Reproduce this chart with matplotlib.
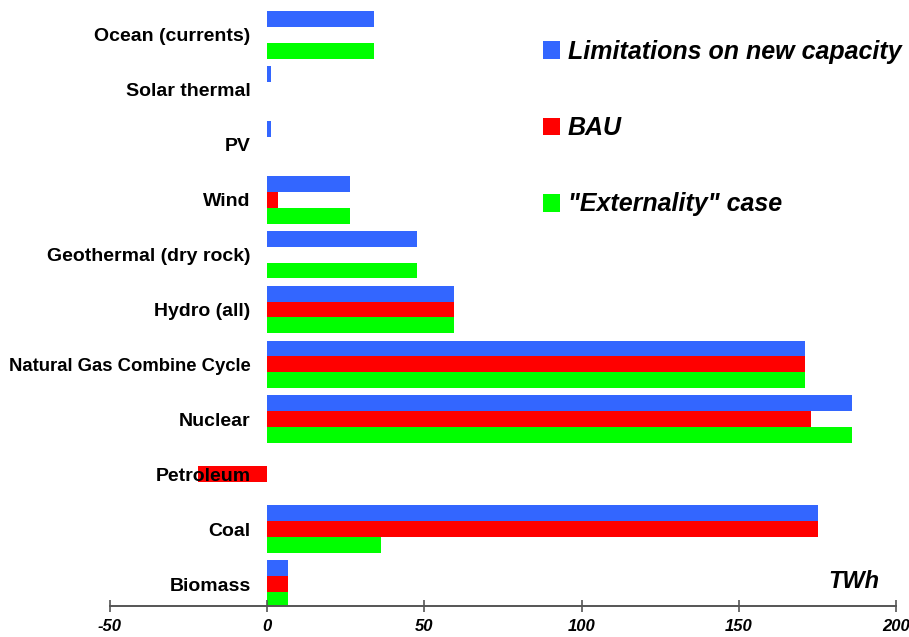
import matplotlib
matplotlib.use("Agg")
import matplotlib.pyplot as plt
import numpy as np

categories = ["Biomass", "Coal", "Petroleum", "Nuclear", "Natural Gas Combine Cycle",
              "Hydro (all)", "Geothermal (dry rock)", "Wind", "PV", "Solar thermal",
              "Ocean (currents)"]
limitations = [6.5, 175.3, 0, 186.1, 171.2, 59.3, 47.5, 26.2, 1.3, 1.3, 33.9]
bau = [6.5, 175.3, -22.1, 173.1, 171.2, 59.3, 0, 3.3, 0, 0, 0]
externality = [6.5, 36.1, 0, 186.1, 171.2, 59.3, 47.5, 26.2, 0, 0, 33.9]
series_names = ["Limitations on new capacity", "BAU", "\"Externality\" case"]
colors = ["#3366FF", "#FF0000", "#00FF00"]
xticks = [-50, 0, 50, 100, 150, 200]

plt.rcParams['font.family'] = ['Liberation Sans', 'DejaVu Sans']

fig = plt.figure(figsize=(9.09, 6.37), dpi=100)
ax = fig.add_axes([110/909, 31/637, (896-110)/909, (637-31-2)/637])

y = np.arange(len(categories))
h = 0.29
for i, (vals, c, name) in enumerate(zip([limitations, bau, externality], colors, series_names)):
    ax.barh(y + (1 - i) * h, vals, height=h, color=c, label=name, linewidth=0)

ax.set_xlim(-50, 200)
ax.set_ylim(-0.4, 10.6)
ax.set_xticks(xticks)
ax.set_xticklabels([str(t) for t in xticks], fontsize=12, fontweight='bold', fontstyle='italic')
ax.tick_params(axis='x', direction='inout', length=9, width=1.2, color='#555555', pad=5)

ax.spines['left'].set_position(('data', 0))
ax.spines['left'].set_visible(False)
ax.spines['right'].set_visible(False)
ax.spines['top'].set_visible(False)
ax.spines['bottom'].set_color('#555555')
ax.spines['bottom'].set_linewidth(1.4)
ax.set_yticks(y)
ax.set_yticklabels(categories, fontsize=14, fontweight='bold')
ax.tick_params(axis='y', length=0, pad=12)
for lbl in ax.get_yticklabels():
    if lbl.get_text().startswith("Natural"):
        lbl.set_fontsize(13.3)

fig.text(854/909, 1 - 582/637, "TWh", fontsize=17, fontweight='bold', fontstyle='italic',
         ha='center', va='center')

leg = fig.legend(loc='upper left', bbox_to_anchor=(520/909, 1 - 17/637), frameon=False,
                 prop={'size': 18, 'weight': 'bold', 'style': 'italic'},
                 handlelength=0.7, handleheight=0.7, handletextpad=0.3, labelspacing=2.1)

fig.savefig("out.png", dpi=100)
